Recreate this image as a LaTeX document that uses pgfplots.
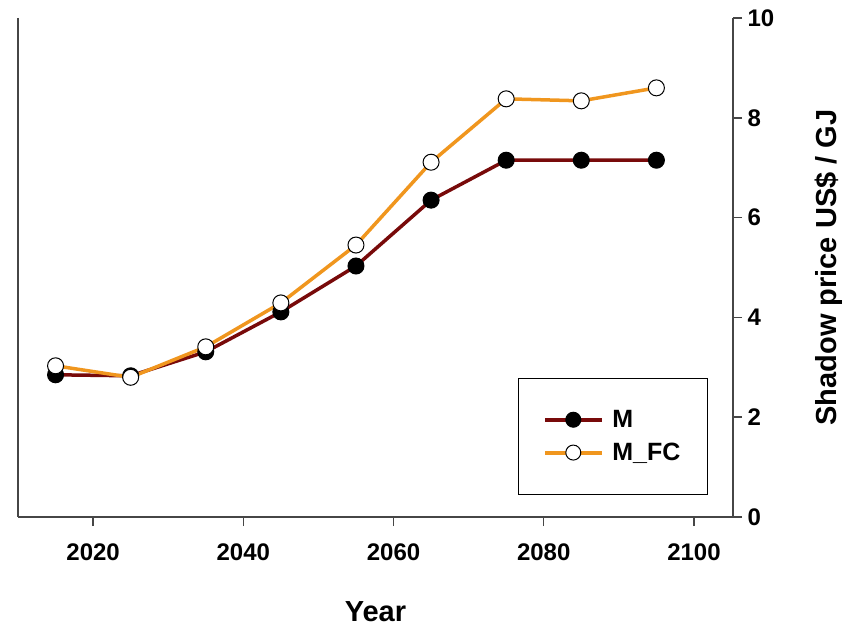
\documentclass[border=0pt]{standalone}
\usepackage{pgfplots}
\pgfplotsset{compat=1.18}
\usepackage{fontspec}
\setmainfont{Liberation Sans}
\definecolor{mred}{RGB}{120,10,10}
\definecolor{morange}{RGB}{240,150,30}
\definecolor{axgray}{RGB}{70,70,70}
\begin{document}
\begin{tikzpicture}
\path[use as bounding box] (-18pt,-110pt) rectangle (833pt,517pt);
\begin{axis}[
  scale only axis,
  width=715pt, height=499pt,
  xmin=2010, xmax=2105.2,
  ymin=0, ymax=10,
  axis x line=bottom, axis y line=right,
  axis line style={-, axgray, line width=2pt},
  tick style={axgray, line width=1.5pt},
  major tick length=9pt,
  tick align=outside,
  xtick={2020,2040,2060,2080,2100},
  ytick={0,2,4,6,8,10},
  tick label style={font=\fontsize{24}{29}\selectfont\bfseries},
  xticklabel style={yshift=-14pt},
  yticklabel style={xshift=2pt},
  /pgf/number format/assume math mode=true,
  /pgf/number format/1000 sep={},
  xlabel={Year},
  ylabel={Shadow price US\$ / GJ},
  xlabel style={font=\fontsize{29}{34}\selectfont\bfseries, yshift=-34pt},
  ylabel style={font=\fontsize{29}{34}\selectfont\bfseries, yshift=-34pt},
  clip=false,
  legend style={at={(rel axis cs:0.699,0.045)}, anchor=south west, draw=black, line width=1pt,
    inner xsep=25pt, inner ysep=30pt, row sep=10pt,
    font=\fontsize{25}{30}\selectfont\bfseries,
    /tikz/every odd column/.append style={column sep=6pt}},
  legend cell align=left,
  legend image code/.code={\draw[mark repeat=2,mark phase=2,#1, line width=4pt, mark size=7.5pt] plot coordinates {(0pt,0pt)(28pt,0pt)(57pt,0pt)};},
]
\draw[axgray, line width=2pt] (rel axis cs:0,1) -- (rel axis cs:0,0);
\addplot[mred, line width=3.5pt, mark=*, mark size=8pt, mark options={fill=black, draw=black, line width=1pt}]
 coordinates {(2015,2.85) (2025,2.83) (2035,3.31) (2045,4.11) (2055,5.03) (2065,6.35) (2075,7.15) (2085,7.15) (2095,7.15)};
\addlegendentry{M}
\addplot[morange, line width=3.5pt, mark=*, mark size=8pt, mark options={fill=white, draw=black, line width=1pt}]
 coordinates {(2015,3.03) (2025,2.80) (2035,3.41) (2045,4.29) (2055,5.45) (2065,7.11) (2075,8.38) (2085,8.34) (2095,8.60)};
\addlegendentry{M\_FC}
\end{axis}
\end{tikzpicture}
\end{document}
